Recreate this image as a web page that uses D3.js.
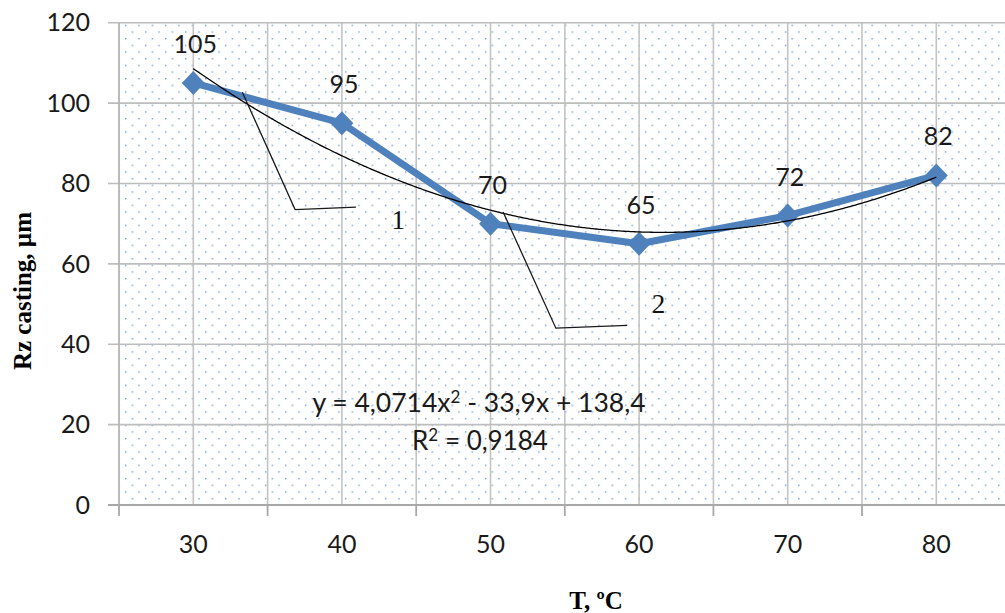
<!DOCTYPE html>
<html>
<head>
<meta charset="utf-8">
<script src="https://cdn.jsdelivr.net/npm/d3@7"></script>
<style>
	html, body { margin: 0; padding: 0; background: #fff; }
	svg { display: block; }
</style>
</head>
<body>
<div id="chart"></div>
<script>
'use strict';

// chart data
var temperatures = [30, 40, 50, 60, 70, 80];
var rzValues = [105, 95, 70, 65, 72, 82];
var yTicks = [0, 20, 40, 60, 80, 100, 120];
// polynomial trend y = a*x^2 + b*x + c, x = point number (1..6)
var trendCoef = [4.0714, -33.9, 138.4];
var trendLabel = ['y = 4,0714x', '2', ' - 33,9x + 138,4'];
var r2Label = ['R', '2', ' = 0,9184'];
// callout leaders (in T / Rz units) and their numbers
var callout1 = [[33.3, 102.7], [36.85, 73.5], [40.95, 74.1]];
var callout2 = [[50.85, 72.9], [54.4, 44.0], [59.2, 44.7]];
var calloutLabels = [{ t: 43.8, rz: 68.6, text: '1' }, { t: 61.3, rz: 47.7, text: '2' }];

var width = 1005;
var height = 613;

var svg = d3.select('#chart').append('svg')
	.attr('width', width)
	.attr('height', height);

var x = d3.scaleLinear().domain([25, 85]).range([119, 1010.6]);
var y = d3.scaleLinear().domain([0, 120]).range([505, 22.7]);

var sansFont = 'Lato, "Open Sans", sans-serif';
var serifFont = '"Liberation Serif", "Times New Roman", serif';

/*
dotted plot area fill
*/
var defs = svg.append('defs');
var pat = defs.append('pattern')
	.attr('id', 'dots')
	.attr('patternUnits', 'userSpaceOnUse')
	.attr('x', x(25) + 6)
	.attr('y', y(120) + 2)
	.attr('width', 13.33)
	.attr('height', 13.33);
pat.append('rect')
	.attr('x', 0).attr('y', 0)
	.attr('width', 1.4).attr('height', 1.4)
	.style('fill', '#6f98d4');
pat.append('rect')
	.attr('x', 6.67).attr('y', 6.67)
	.attr('width', 1.4).attr('height', 1.4)
	.style('fill', '#6f98d4');

svg.append('rect')
	.attr('x', x(25))
	.attr('y', y(120))
	.attr('width', x(85) - x(25))
	.attr('height', y(0) - y(120))
	.style('fill', 'url(#dots)');

/*
grid lines
*/
var gridX = d3.range(25, 86, 5);
svg.append('g').selectAll('line')
	.data(gridX.slice(1))
	.enter()
	.append('line')
	.attr('x1', function(d) { return x(d); })
	.attr('x2', function(d) { return x(d); })
	.attr('y1', y(120))
	.attr('y2', y(0))
	.style('stroke', '#c4c4c4')
	.style('stroke-width', 1.6);

svg.append('g').selectAll('line')
	.data(yTicks.slice(1))
	.enter()
	.append('line')
	.attr('x1', x(25) - 11)
	.attr('x2', width)
	.attr('y1', function(d) { return y(d); })
	.attr('y2', function(d) { return y(d); })
	.style('stroke', '#bdbdbd')
	.style('stroke-width', 1.6);

/*
axes
*/
svg.append('line')
	.attr('x1', x(25)).attr('x2', x(25))
	.attr('y1', y(120)).attr('y2', y(0))
	.style('stroke', '#b5b5b5')
	.style('stroke-width', 1.8);

svg.append('line')
	.attr('x1', x(25) - 11).attr('x2', width)
	.attr('y1', y(0)).attr('y2', y(0))
	.style('stroke', '#a8a8a8')
	.style('stroke-width', 1.8);

svg.append('g').selectAll('line')
	.data(d3.range(25, 86, 10))
	.enter()
	.append('line')
	.attr('x1', function(d) { return x(d); })
	.attr('x2', function(d) { return x(d); })
	.attr('y1', y(0))
	.attr('y2', y(0) + 11)
	.style('stroke', '#a8a8a8')
	.style('stroke-width', 1.8);

svg.append('g').selectAll('text')
	.data(yTicks)
	.enter()
	.append('text')
	.attr('x', 90)
	.attr('y', function(d) { return y(d); })
	.attr('dy', '0.35em')
	.attr('text-anchor', 'end')
	.style('font-family', sansFont)
	.style('font-size', '25px')
	.style('fill', '#1a1a1a')
	.text(function(d) { return d; });

svg.append('g').selectAll('text')
	.data(temperatures)
	.enter()
	.append('text')
	.attr('x', function(d) { return x(d); })
	.attr('y', 553)
	.attr('text-anchor', 'middle')
	.style('font-family', sansFont)
	.style('font-size', '25px')
	.style('fill', '#1a1a1a')
	.text(function(d) { return d; });

// axis titles
svg.append('text')
	.attr('transform', 'translate(31,291) rotate(-90)')
	.attr('text-anchor', 'middle')
	.style('font-family', serifFont)
	.style('font-size', '25px')
	.style('font-weight', 'bold')
	.style('fill', '#000')
	.text('Rz casting, µm');

svg.append('text')
	.attr('x', 596)
	.attr('y', 609)
	.attr('text-anchor', 'middle')
	.style('font-family', serifFont)
	.style('font-size', '25px')
	.style('font-weight', 'bold')
	.style('fill', '#000')
	.text('T, ºC');

/*
data series
*/
var points = temperatures.map(function(t, i) { return { t: t, rz: rzValues[i] }; });

var line = d3.line()
	.x(function(d) { return x(d.t); })
	.y(function(d) { return y(d.rz); });

svg.append('path')
	.datum(points)
	.attr('d', line)
	.style('fill', 'none')
	.style('stroke', '#4f81bd')
	.style('stroke-width', 7)
	.style('stroke-linejoin', 'round');

svg.append('g').selectAll('path')
	.data(points)
	.enter()
	.append('path')
	.attr('transform', function(d) { return 'translate(' + x(d.t) + ',' + y(d.rz) + ')'; })
	.attr('d', 'M0,-12L11.5,0L0,12L-11.5,0Z')
	.style('fill', '#4f81bd');

svg.append('g').selectAll('text')
	.data(points)
	.enter()
	.append('text')
	.attr('x', function(d) { return x(d.t) + 2; })
	.attr('y', function(d) { return y(d.rz) - 30; })
	.attr('text-anchor', 'middle')
	.style('font-family', sansFont)
	.style('font-size', '25px')
	.style('fill', '#1a1a1a')
	.text(function(d) { return d.rz; });

/*
trend line
*/
var trendPts = d3.range(0, 501).map(function(k) {
	var n = 1 + k / 100;
	return { t: temperatures[0] + (n - 1) * 10, rz: trendCoef[0] * n * n + trendCoef[1] * n + trendCoef[2] };
});

svg.append('path')
	.datum(trendPts)
	.attr('d', line)
	.style('fill', 'none')
	.style('stroke', '#000')
	.style('stroke-width', 1.3);

/*
callouts
*/
var leader = d3.line()
	.x(function(d) { return x(d[0]); })
	.y(function(d) { return y(d[1]); });

[callout1, callout2].forEach(function(c) {
	svg.append('path')
		.attr('d', leader(c))
		.style('fill', 'none')
		.style('stroke', '#1a1a1a')
		.style('stroke-width', 1.3);
});

svg.append('g').selectAll('text')
	.data(calloutLabels)
	.enter()
	.append('text')
	.attr('x', function(d) { return x(d.t); })
	.attr('y', function(d) { return y(d.rz); })
	.attr('text-anchor', 'middle')
	.style('font-family', serifFont)
	.style('font-size', '27px')
	.style('fill', '#111')
	.text(function(d) { return d.text; });

/*
trend equation
*/
var eq = svg.append('text')
	.attr('x', 479)
	.attr('y', 412)
	.attr('text-anchor', 'middle')
	.style('font-family', sansFont)
	.style('font-size', '26.5px')
	.style('fill', '#1a1a1a');
eq.append('tspan').text(trendLabel[0]);
eq.append('tspan').attr('dy', -9).style('font-size', '17px').text(trendLabel[1]);
eq.append('tspan').attr('dy', 9).text(trendLabel[2]);

var r2 = svg.append('text')
	.attr('x', 480)
	.attr('y', 450)
	.attr('text-anchor', 'middle')
	.style('font-family', sansFont)
	.style('font-size', '26px')
	.style('fill', '#1a1a1a');
r2.append('tspan').text(r2Label[0]);
r2.append('tspan').attr('dy', -9).style('font-size', '17px').text(r2Label[1]);
r2.append('tspan').attr('dy', 9).text(r2Label[2]);
</script>
</body>
</html>
